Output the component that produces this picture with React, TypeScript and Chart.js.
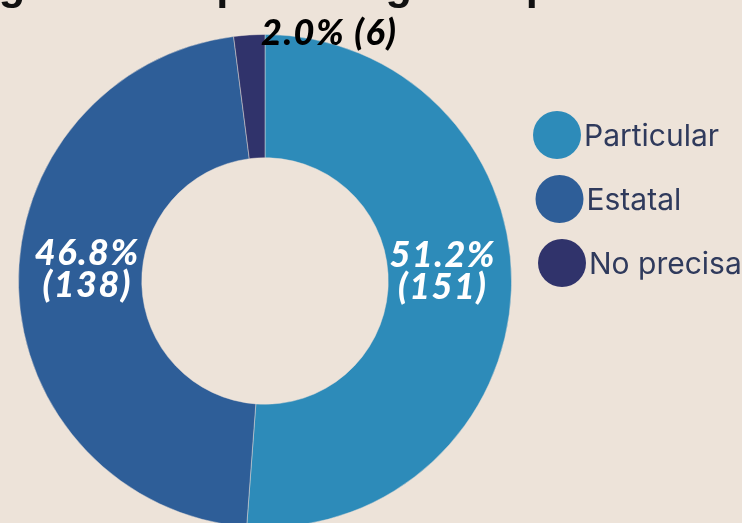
import React, { useEffect, useRef } from "react";
import { Chart, registerables } from "chart.js";

Chart.register(...registerables);

const TITLE = "Ingresantes por colegio de procedencia";
const CATEGORIES = ["Particular", "Estatal", "No precisa"];
const COUNTS = [151, 138, 6];
const COLORS = ["#2d8bb9", "#2e5e98", "#30336b"];
const BG = "#ede3d9";
const LEGEND_TEXT = "#2f3a5c";

export default function App() {
  const ref = useRef<HTMLCanvasElement>(null);

  useEffect(() => {
    document.body.style.margin = "0";
    document.body.style.background = BG;
    const total = COUNTS.reduce((a, b) => a + b, 0);

    const bgPlugin = {
      id: "bg",
      beforeDraw(chart: any) {
        const { ctx, width, height } = chart;
        ctx.save();
        ctx.fillStyle = BG;
        ctx.fillRect(0, 0, width, height);
        ctx.restore();
      },
    };

    const decorPlugin = {
      id: "decor",
      afterDatasetsDraw(chart: any) {
        const ctx = chart.ctx;
        const meta = chart.getDatasetMeta(0);
        ctx.save();
        // title (mostly above the visible area)
        ctx.font = "bold 43.5px 'Liberation Sans'";
        ctx.fillStyle = "#111";
        ctx.textAlign = "center";
        ctx.textBaseline = "alphabetic";
        ctx.fillText(TITLE, chart.width / 2, -1);

        // value labels
        meta.data.forEach((arc: any, i: number) => {
          const p = arc.getProps(["startAngle", "endAngle", "innerRadius", "outerRadius", "x", "y"], true);
          const mid = (p.startAngle + p.endAngle) / 2;
          const pct = ((COUNTS[i] / total) * 100).toFixed(1) + "%";
          const cnt = "(" + COUNTS[i] + ")";
          ctx.font = "italic 900 36px Lato";
          (ctx as any).letterSpacing = "1.5px";
          ctx.textAlign = "center";
          ctx.textBaseline = "alphabetic";
          const cap = 26;
          if (COUNTS[i] / total > 0.1) {
            const r = (p.innerRadius + p.outerRadius) / 2 - 7;
            const cx = p.x + Math.cos(mid) * r;
            const cy = p.y + Math.sin(mid) * r - 18;
            ctx.fillStyle = "#ffffff";
            ctx.fillText(pct, cx, cy + cap / 2 - 16);
            ctx.fillText(cnt, cx, cy + cap / 2 + 16);
          } else {
            const ax = p.x + Math.cos(mid) * p.outerRadius;
            const ay = p.y + Math.sin(mid) * p.outerRadius;
            ctx.fillStyle = "#000000";
            ctx.fillText(pct + " " + cnt, ax + 80, ay - 3 + cap / 2);
          }
        });
        (ctx as any).letterSpacing = "0px";

        // legend
        const area = chart.chartArea;
        const colors = chart.data.datasets[0].backgroundColor as string[];
        chart.data.labels.forEach((lab: string, i: number) => {
          const cx = area.right + 45 + i * 2.5;
          const cy = 135 + i * 64;
          ctx.beginPath();
          ctx.arc(cx, cy, 24, 0, Math.PI * 2);
          ctx.fillStyle = colors[i];
          ctx.fill();
          ctx.font = "30px Inter";
          ctx.fillStyle = LEGEND_TEXT;
          ctx.textAlign = "left";
          ctx.textBaseline = "alphabetic";
          ctx.fillText(lab, cx + 27, cy + 11);
        });
        ctx.restore();
      },
    };

    const chart = new Chart(ref.current!, {
      type: "doughnut",
      data: {
        labels: CATEGORIES,
        datasets: [
          {
            data: COUNTS,
            backgroundColor: COLORS,
            borderColor: "rgba(237,227,217,0.45)",
            borderWidth: 1,
            hoverOffset: 0,
          },
        ],
      },
      options: {
        responsive: false,
        maintainAspectRatio: false,
        animation: false,
        cutout: "50%",
        layout: { padding: { left: 18, top: 34, right: 230, bottom: 32 } },
        plugins: {
          legend: { display: false },
          tooltip: { enabled: false },
          title: { display: false },
        },
      },
      plugins: [bgPlugin, decorPlugin],
    });
    return () => chart.destroy();
  }, []);

  return (
    <div style={{ width: 742, height: 523, overflow: "hidden", background: BG }}>
      <canvas ref={ref} width={742} height={560} style={{ display: "block" }} />
    </div>
  );
}
